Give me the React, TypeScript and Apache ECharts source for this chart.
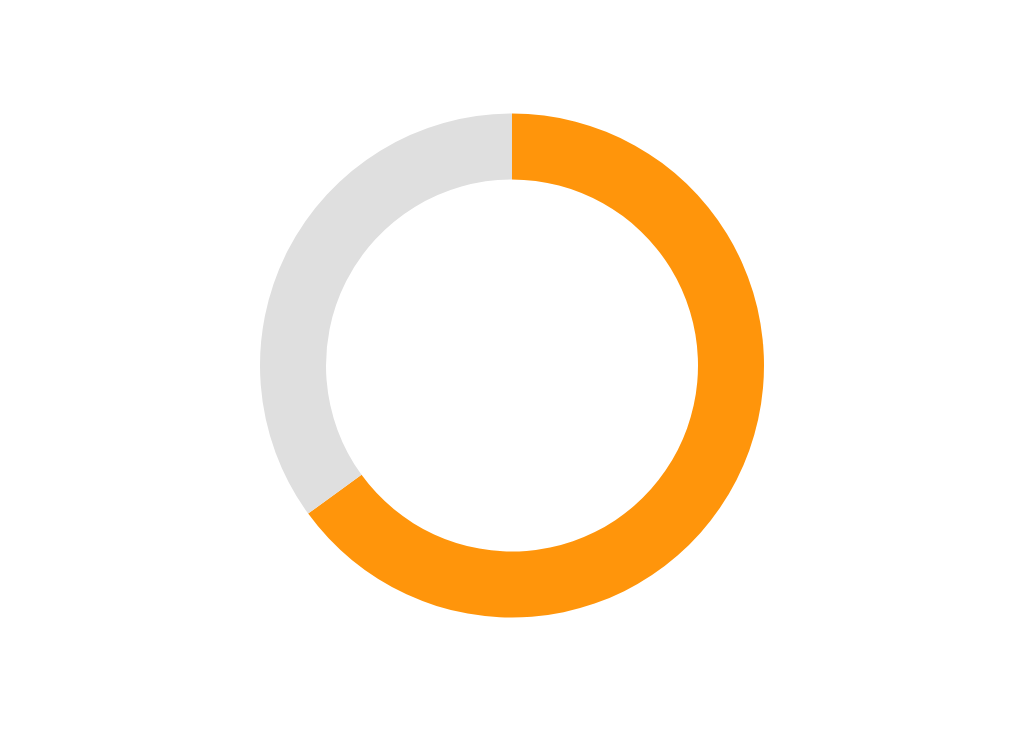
import React, { useEffect, useRef } from 'react';
import * as echarts from 'echarts';

// 数据
const names = ['完成', '剩余'];
const values = [65, 35];
const colors = ['#FF950B', '#DFDFDF'];

const App = () => {
    const chartRef = useRef<HTMLDivElement>(null);

    useEffect(() => {
        if (!chartRef.current) return;
        const myChart = echarts.init(chartRef.current, null, { renderer: 'svg' });

        const option = {
            animation: false,
            series: [
                {
                    type: 'pie',
                    center: ['50%', '50%'],
                    radius: [186, 252],
                    startAngle: 90,
                    clockwise: true,
                    silent: true,
                    label: { show: false },
                    labelLine: { show: false },
                    itemStyle: { borderWidth: 0 },
                    data: names.map((n, i) => ({
                        name: n,
                        value: values[i],
                        itemStyle: { color: colors[i] }
                    }))
                }
            ]
        };

        myChart.setOption(option);
        return () => {
            myChart.dispose();
        };
    }, []);

    return <div ref={chartRef} style={{ width: 1008, height: 715 }}></div>;
};

export default App;
